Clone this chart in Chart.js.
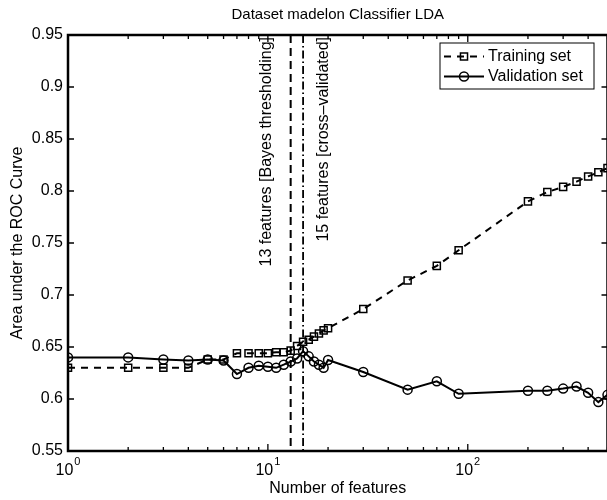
<!DOCTYPE html>
<html><head><meta charset="utf-8">
<script src="https://cdn.jsdelivr.net/npm/chart.js@4"></script>
<style>
html,body{margin:0;padding:0;background:#fff;overflow:hidden;width:607px;height:500px}
#wrap{width:607px;height:500px;overflow:hidden;position:relative}
canvas{display:block}
</style></head>
<body><div id="wrap"><canvas id="c" width="614" height="500"></canvas></div>
<script>
const FONT = "'Liberation Sans', Arial, Helvetica, sans-serif";

// ---- data ----
const featureCounts = [1,2,3,4,5,6,7,8,9,10,11,12,13,14,15,16,17,18,19,20,30,50,70,90,200,250,300,350,400,450,500];
const trainingAUC = [0.630,0.630,0.630,0.630,0.638,0.638,0.644,0.644,0.644,0.644,0.645,0.645,0.6465,0.651,0.655,0.657,0.660,0.663,0.666,0.668,0.6865,0.714,0.728,0.743,0.790,0.799,0.804,0.809,0.814,0.818,0.822];
const validationAUC = [0.640,0.640,0.638,0.637,0.638,0.637,0.624,0.630,0.632,0.631,0.630,0.633,0.636,0.639,0.646,0.641,0.636,0.633,0.630,0.6375,0.626,0.609,0.617,0.605,0.608,0.608,0.610,0.612,0.606,0.597,0.604];
const seriesNames = ['Training set','Validation set'];
const markerLines = [13, 15];
const markerTexts = ['13 features [Bayes thresholding]','15 features [cross\u2013validated]'];
const xTickValues = [1,2,3,4,5,6,7,8,9,10,20,30,40,50,60,70,80,90,100,200,300,400,500];
const xMajorTicks = [1,10,100];
const xMajorExponents = ['0','1','2'];
const yTickValues = [0.55,0.6,0.65,0.7,0.75,0.8,0.85,0.9,0.95];
const yTickLabels = ['0.55','0.6','0.65','0.7','0.75','0.8','0.85','0.9','0.95'];
const titleText = 'Dataset madelon Classifier LDA';
const xTitle = 'Number of features';
const yTitle = 'Area under the ROC Curve';

const matlabPlugin = {
  id: 'matlabFrame',
  afterDatasetsDraw(chart) {
    const ctx = chart.ctx;
    const {left, right, top, bottom} = chart.chartArea;
    const xs = chart.scales.x, ys = chart.scales.y;
    ctx.save();
    // vertical marker lines
    ctx.strokeStyle = '#000';
    markerLines.forEach((v, i) => {
      const px = xs.getPixelForValue(v);
      ctx.setLineDash(i === 0 ? [8, 5] : [8, 3, 1.5, 3]);
      ctx.lineWidth = i === 0 ? 2 : 1.8;
      ctx.beginPath(); ctx.moveTo(px, top); ctx.lineTo(px, bottom); ctx.stroke();
    });
    ctx.setLineDash([]);
    // marker texts
    ctx.fillStyle = '#000';
    ctx.font = '16px ' + FONT;
    ctx.textAlign = 'right';
    ctx.textBaseline = 'middle';
    markerLines.forEach((v, i) => {
      const px = xs.getPixelForValue(v) + (i === 0 ? -24 : 21);
      ctx.save();
      ctx.translate(px, top + 2);
      ctx.rotate(-Math.PI / 2);
      ctx.fillText(markerTexts[i], 0, 0);
      ctx.restore();
    });
    // ticks (inward)
    ctx.lineWidth = 1.3;
    xTickValues.forEach(v => {
      const px = xs.getPixelForValue(v);
      const len = xMajorTicks.includes(v) ? 7 : 4;
      ctx.beginPath();
      ctx.moveTo(px, bottom); ctx.lineTo(px, bottom - len);
      ctx.moveTo(px, top); ctx.lineTo(px, top + len);
      ctx.stroke();
    });
    yTickValues.forEach(v => {
      const py = ys.getPixelForValue(v);
      ctx.beginPath();
      ctx.moveTo(left, py); ctx.lineTo(left + 6, py);
      ctx.moveTo(right, py); ctx.lineTo(right - 6, py);
      ctx.stroke();
    });
    // frame
    ctx.lineWidth = 2.5;
    ctx.strokeRect(left, top, right - left, bottom - top);
    // x tick labels 10^n
    xMajorTicks.forEach((v, i) => {
      const px = xs.getPixelForValue(v);
      ctx.font = '16px ' + FONT;
      const w1 = ctx.measureText('10').width;
      ctx.font = '11px ' + FONT;
      const w2 = ctx.measureText(xMajorExponents[i]).width;
      const start = px - (w1 + w2 + 1) / 2;
      ctx.textAlign = 'left';
      ctx.textBaseline = 'alphabetic';
      ctx.fillStyle = '#000';
      ctx.font = '16px ' + FONT;
      ctx.fillText('10', start, bottom + 24);
      ctx.font = '11px ' + FONT;
      ctx.fillText(xMajorExponents[i], start + w1 + 1, bottom + 14);
    });
    // legend
    const lw = 154, lh = 46;
    const lx = right - 13.5 - lw, ly = top + 8;
    ctx.fillStyle = '#fff';
    ctx.fillRect(lx, ly, lw, lh);
    ctx.strokeStyle = '#000';
    ctx.lineWidth = 1;
    ctx.strokeRect(lx, ly, lw, lh);
    chart.data.datasets.forEach((ds, i) => {
      const cy = ly + 13.5 + i * 20;
      ctx.strokeStyle = '#000';
      ctx.lineWidth = 2;
      ctx.setLineDash(ds.borderDash || []);
      ctx.beginPath(); ctx.moveTo(lx + 4, cy); ctx.lineTo(lx + 44, cy); ctx.stroke();
      ctx.setLineDash([]);
      ctx.lineWidth = 1.5;
      ctx.fillStyle = 'rgba(0,0,0,0)';
      Chart.helpers.drawPoint(ctx, {pointStyle: ds.pointStyle, rotation: 0, radius: ds.pointRadius, borderWidth: 1.5}, lx + 24, cy);
      ctx.fillStyle = '#000';
      ctx.font = '16px ' + FONT;
      ctx.textAlign = 'left';
      ctx.textBaseline = 'middle';
      ctx.fillText(ds.label, lx + 48, cy + 0.5);
    });
    ctx.restore();
  }
};

const ctxEl = document.getElementById('c');
new Chart(ctxEl, {
  type: 'line',
  data: {
    datasets: [
      {
        label: seriesNames[0],
        data: featureCounts.map((x, i) => ({x, y: trainingAUC[i]})),
        borderColor: '#000', borderWidth: 2, borderDash: [7, 6],
        pointStyle: 'rect', pointRadius: 5, pointBorderWidth: 1.5,
        pointBorderColor: '#000', pointBackgroundColor: 'rgba(0,0,0,0)',
        tension: 0, fill: false
      },
      {
        label: seriesNames[1],
        data: featureCounts.map((x, i) => ({x, y: validationAUC[i]})),
        borderColor: '#000', borderWidth: 2,
        pointStyle: 'circle', pointRadius: 4.5, pointBorderWidth: 1.5,
        pointBorderColor: '#000', pointBackgroundColor: 'rgba(0,0,0,0)',
        tension: 0, fill: false
      }
    ]
  },
  options: {
    responsive: false, animation: false, devicePixelRatio: 1,
    layout: {padding: {left: 0, right: 3.5, top: 0, bottom: 0}},
    plugins: {
      legend: {display: false},
      tooltip: {enabled: false},
      title: {display: true, text: titleText, color: '#000', fullSize: false,
        font: {family: FONT, size: 15, weight: 'normal'}, padding: {top: 6, bottom: 11}}
    },
    scales: {
      x: {
        type: 'logarithmic', min: 1, max: 500,
        afterBuildTicks: s => { s.ticks = xTickValues.map(v => ({value: v})); },
        afterFit: s => { s.height = 49; },
        ticks: {display: false},
        grid: {display: false}, border: {display: false},
        title: {display: true, text: xTitle, color: '#000', font: {family: FONT, size: 16}, padding: {top: 0, bottom: 2}}
      },
      y: {
        min: 0.55, max: 0.95,
        afterBuildTicks: s => { s.ticks = yTickValues.map(v => ({value: v})); },
        afterFit: s => { s.width = 68; },
        ticks: {color: '#000', font: {family: FONT, size: 16}, padding: 5,
          callback: (v) => { const i = yTickValues.findIndex(t => Math.abs(t - v) < 1e-9); return i >= 0 ? yTickLabels[i] : ''; }},
        grid: {display: false, drawTicks: false}, border: {display: false},
        title: {display: true, text: yTitle, color: '#000', font: {family: FONT, size: 16}, padding: {top: 8, bottom: 0}}
      }
    }
  },
  plugins: [matlabPlugin]
});
</script></body></html>
